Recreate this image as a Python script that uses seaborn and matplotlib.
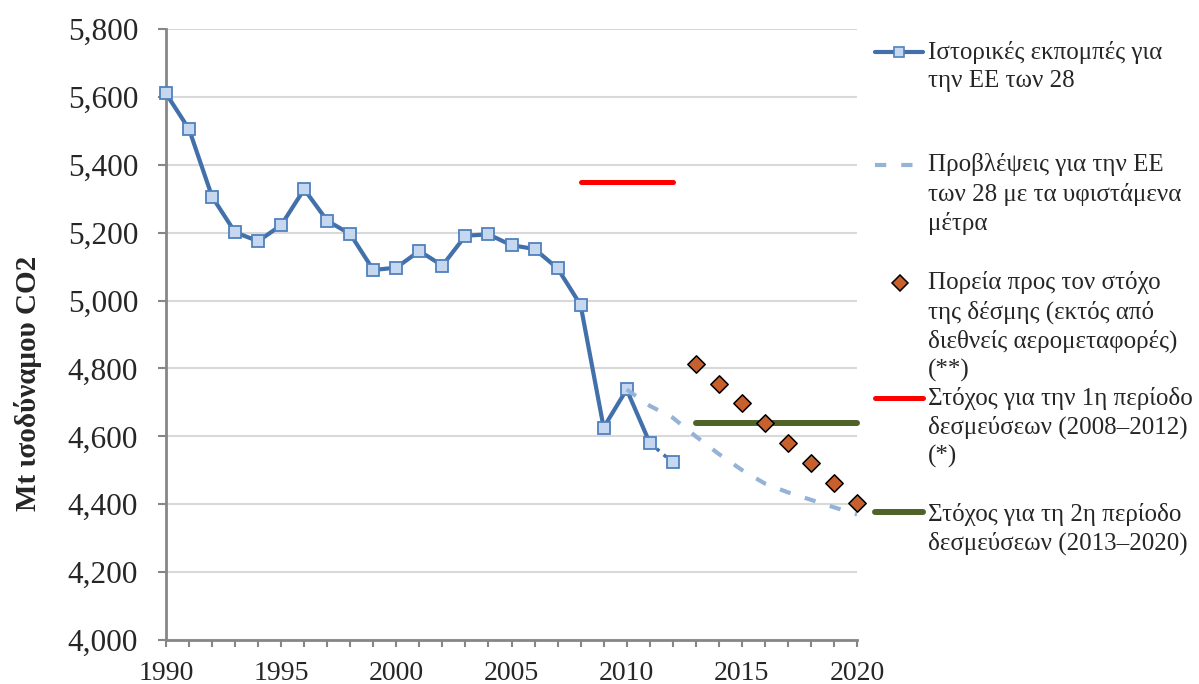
import matplotlib
matplotlib.use("Agg")
import matplotlib.pyplot as plt
import seaborn as sns
from matplotlib.lines import Line2D
from matplotlib.ticker import FuncFormatter, MultipleLocator

# === DATA (Mt CO2 equivalent) ===
hist_years = [1990, 1991, 1992, 1993, 1994, 1995, 1996, 1997, 1998, 1999, 2000, 2001,
              2002, 2003, 2004, 2005, 2006, 2007, 2008, 2009, 2010, 2011, 2012]
hist_vals = [5610, 5505, 5306, 5201, 5175, 5222, 5328, 5235, 5196, 5090, 5097, 5146,
             5103, 5191, 5195, 5163, 5152, 5095, 4987, 4626, 4738, 4581, 4523]

proj_years = [2010, 2011, 2012, 2013, 2014, 2015, 2016, 2017, 2018, 2019, 2020]
proj_vals = [4738, 4690, 4655, 4600, 4548, 4501, 4461, 4435, 4413, 4391, 4370]

path_years = [2013, 2014, 2015, 2016, 2017, 2018, 2019, 2020]
path_vals = [4813, 4755, 4697, 4638, 4580, 4521, 4463, 4404]

target1_years = [2008, 2012]
target1_vals = [5350, 5350]
target2_years = [2013, 2020]
target2_vals = [4640, 4640]

x_ticks = [1990, 1995, 2000, 2005, 2010, 2015, 2020]

legend_labels = [
    ["Ιστορικές εκπομπές για", "την ΕΕ των 28"],
    ["Προβλέψεις για την ΕΕ", "των 28 με τα υφιστάμενα", "μέτρα"],
    ["Πορεία προς τον στόχο", "της δέσμης (εκτός από", "διεθνείς αερομεταφορές)", "(**)"],
    ["Στόχος για την 1η περίοδο", "δεσμεύσεων (2008–2012)", "(*)"],
    ["Στόχος για τη 2η περίοδο", "δεσμεύσεων (2013–2020)"],
]

# colours
C_HIST = "#4270AA"
C_HIST_FACE = "#C6D8EF"
C_HIST_EDGE = "#4F81BD"
C_PROJ = "#95B3D7"
C_PATH = "#C8602E"
C_T1 = "#FF0000"
C_T2 = "#4F6228"
C_AXIS = "#868686"

sns.set_style("ticks")
plt.rcParams['font.family'] = ['Liberation Serif', 'DejaVu Serif']

W, H = 1199, 684
fig = plt.figure(figsize=(W / 100, H / 100), dpi=100)
ax = fig.add_axes([166 / W, 1 - 640 / H, (857 - 166) / W, (640 - 29) / H])

# historic emissions (solid up to 2011, dotted to 2012)
sns.lineplot(x=hist_years[:-1], y=hist_vals[:-1], ax=ax, color=C_HIST, lw=3,
             marker="s", markersize=8, markerfacecolor=C_HIST_FACE,
             markeredgecolor=C_HIST_EDGE, markeredgewidth=1.3, clip_on=False, zorder=5)
sns.lineplot(x=hist_years[-2:], y=hist_vals[-2:], ax=ax, color=C_HIST, lw=2.5,
             linestyle=":", zorder=4)
sns.lineplot(x=hist_years[-1:], y=hist_vals[-1:], ax=ax, lw=0,
             marker="s", markersize=8, markerfacecolor=C_HIST_FACE,
             markeredgecolor=C_HIST_EDGE, markeredgewidth=1.3, zorder=5)

# projections with existing measures
sns.lineplot(x=proj_years, y=proj_vals, ax=ax, color=C_PROJ, lw=3, zorder=6)
ax.lines[-1].set_linestyle((0, (2.7, 3.6)))

# targets
sns.lineplot(x=target1_years, y=target1_vals, ax=ax, color=C_T1, lw=3.6,
             solid_capstyle="round", zorder=4)
sns.lineplot(x=target2_years, y=target2_vals, ax=ax, color=C_T2, lw=4.3,
             solid_capstyle="round", clip_on=False, zorder=4)

# trajectory to the package target
sns.scatterplot(x=path_years, y=path_vals, ax=ax, marker="D", s=78, color=C_PATH,
                edgecolor="black", linewidth=1.1, zorder=7, clip_on=False)

# axes
ax.set_xlim(1990, 2020)
ax.set_ylim(4000, 5800)
ax.set_xticks(x_ticks)
ax.xaxis.set_minor_locator(MultipleLocator(1))
ax.yaxis.set_major_locator(MultipleLocator(200))
ax.yaxis.set_major_formatter(FuncFormatter(lambda v, p: f"{v:,.0f}"))
ax.tick_params(axis="y", length=6, width=1.5, color=C_AXIS, pad=14, labelsize=22.5)
ax.tick_params(axis="x", which="both", length=5, width=1.5, color=C_AXIS, pad=10, labelsize=20)
ax.yaxis.grid(True, color="#D9D9D9", lw=1.5)
ax.set_axisbelow(True)
sns.despine(ax=ax)
for s in ["left", "bottom"]:
    ax.spines[s].set_color(C_AXIS)
    ax.spines[s].set_linewidth(2)

ax.set_xlabel("")
ax.set_ylabel("Mt ισοδύναμου CO2", fontsize=21, fontweight="bold")
ax.yaxis.set_label_coords(-0.179, 0.42)

# legend drawn by hand (entries have uneven spacing in the original)
def fx(x):
    return x / W

def fy(y):
    return 1 - y / H

first_line_y = [52, 165, 283, 398, 514]
step = 29.3
for lines, y0 in zip(legend_labels, first_line_y):
    for i, txt in enumerate(lines):
        fig.text(fx(928), fy(y0 + i * step), txt, fontsize=18, va="center", ha="left")

fig.add_artist(Line2D([fx(875), fx(923)], [fy(52)] * 2, color=C_HIST, lw=3))
fig.add_artist(Line2D([fx(899)], [fy(52)], marker="s", markersize=7, color=C_HIST,
                      markerfacecolor=C_HIST_FACE, markeredgecolor=C_HIST_EDGE, markeredgewidth=1.2))
fig.add_artist(Line2D([fx(875), fx(919)], [fy(165)] * 2, color=C_PROJ, lw=3,
                      linestyle=(0, (2.7, 3.6))))
fig.add_artist(Line2D([fx(900)], [fy(283)], marker="D", markersize=8, color=C_PATH,
                      markeredgecolor="black", markeredgewidth=1.1))
fig.add_artist(Line2D([fx(875), fx(923)], [fy(398)] * 2, color=C_T1, lw=3.6))
fig.add_artist(Line2D([fx(875), fx(923)], [fy(512)] * 2, color=C_T2, lw=4.3))

fig.savefig("out.png", dpi=100)
